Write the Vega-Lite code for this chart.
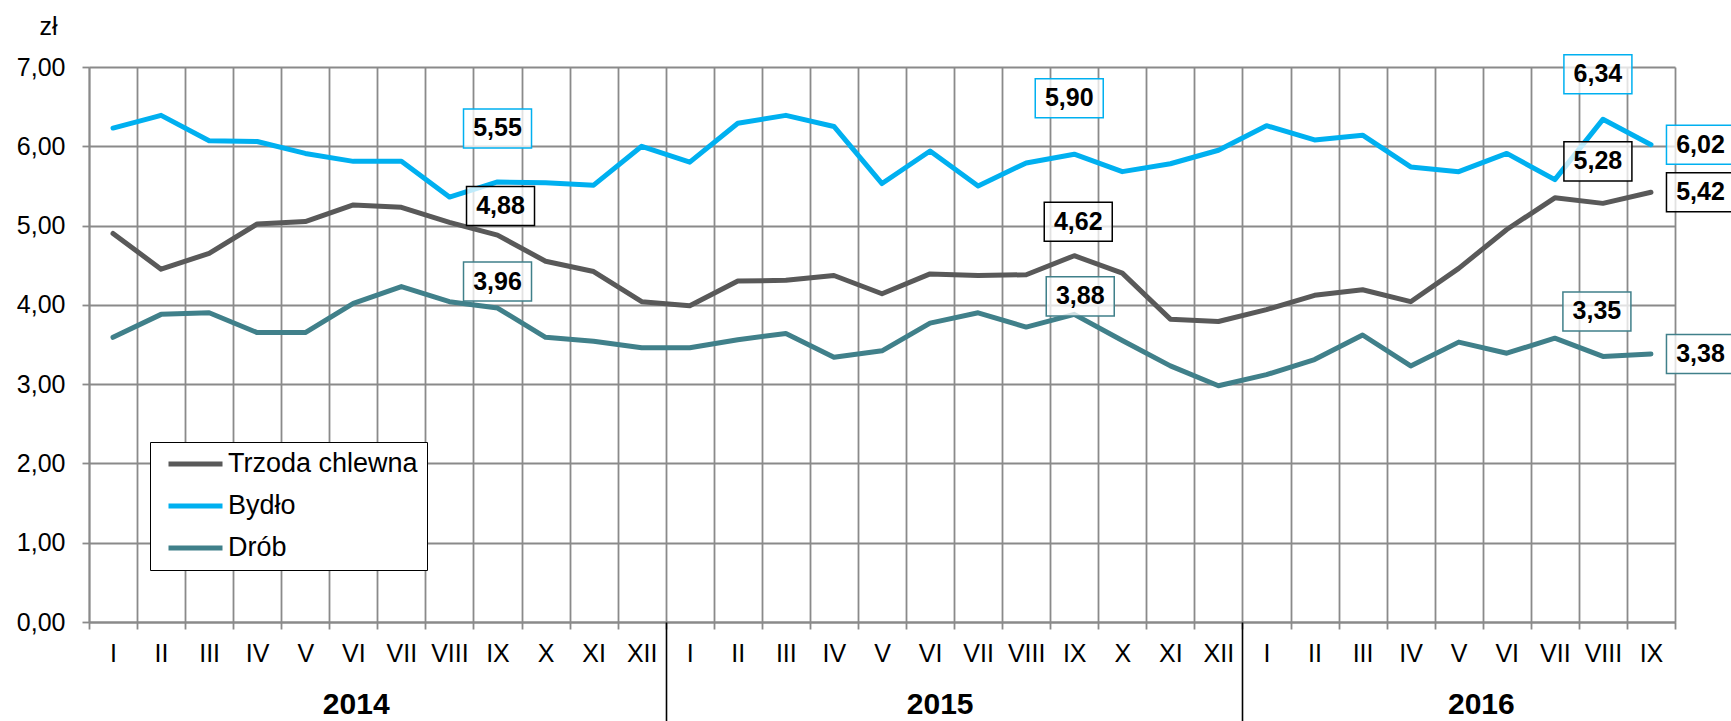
{
  "$schema": "https://vega.github.io/schema/vega-lite/v6.json",
  "width": 1586,
  "height": 555,
  "autosize": {"type": "none"},
  "padding": {"left": 89, "top": 67, "right": 56, "bottom": 99},
  "background": "#ffffff",
  "config": {
    "view": {"stroke": null},
    "font": "Liberation Sans",
    "locale": {"number": {"decimal": ",", "thousands": " ", "grouping": [3], "currency": ["", " zł"]}}
  },
  "data": {
    "values": [
      {"i": 0, "rok": 2014, "miesiac": "I", "Trzoda chlewna": 4.90, "Bydło": 6.23, "Drób": 3.59},
      {"i": 1, "rok": 2014, "miesiac": "II", "Trzoda chlewna": 4.45, "Bydło": 6.39, "Drób": 3.88},
      {"i": 2, "rok": 2014, "miesiac": "III", "Trzoda chlewna": 4.65, "Bydło": 6.07, "Drób": 3.90},
      {"i": 3, "rok": 2014, "miesiac": "IV", "Trzoda chlewna": 5.02, "Bydło": 6.06, "Drób": 3.65},
      {"i": 4, "rok": 2014, "miesiac": "V", "Trzoda chlewna": 5.05, "Bydło": 5.91, "Drób": 3.65},
      {"i": 5, "rok": 2014, "miesiac": "VI", "Trzoda chlewna": 5.26, "Bydło": 5.81, "Drób": 4.02},
      {"i": 6, "rok": 2014, "miesiac": "VII", "Trzoda chlewna": 5.23, "Bydło": 5.81, "Drób": 4.23},
      {"i": 7, "rok": 2014, "miesiac": "VIII", "Trzoda chlewna": 5.04, "Bydło": 5.36, "Drób": 4.04},
      {"i": 8, "rok": 2014, "miesiac": "IX", "Trzoda chlewna": 4.88, "Bydło": 5.55, "Drób": 3.96},
      {"i": 9, "rok": 2014, "miesiac": "X", "Trzoda chlewna": 4.55, "Bydło": 5.54, "Drób": 3.59},
      {"i": 10, "rok": 2014, "miesiac": "XI", "Trzoda chlewna": 4.42, "Bydło": 5.51, "Drób": 3.54},
      {"i": 11, "rok": 2014, "miesiac": "XII", "Trzoda chlewna": 4.04, "Bydło": 6.00, "Drób": 3.46},
      {"i": 12, "rok": 2015, "miesiac": "I", "Trzoda chlewna": 3.99, "Bydło": 5.80, "Drób": 3.46},
      {"i": 13, "rok": 2015, "miesiac": "II", "Trzoda chlewna": 4.30, "Bydło": 6.29, "Drób": 3.56},
      {"i": 14, "rok": 2015, "miesiac": "III", "Trzoda chlewna": 4.31, "Bydło": 6.39, "Drób": 3.64},
      {"i": 15, "rok": 2015, "miesiac": "IV", "Trzoda chlewna": 4.37, "Bydło": 6.25, "Drób": 3.34},
      {"i": 16, "rok": 2015, "miesiac": "V", "Trzoda chlewna": 4.14, "Bydło": 5.53, "Drób": 3.42},
      {"i": 17, "rok": 2015, "miesiac": "VI", "Trzoda chlewna": 4.39, "Bydło": 5.94, "Drób": 3.77},
      {"i": 18, "rok": 2015, "miesiac": "VII", "Trzoda chlewna": 4.37, "Bydło": 5.50, "Drób": 3.90},
      {"i": 19, "rok": 2015, "miesiac": "VIII", "Trzoda chlewna": 4.38, "Bydło": 5.79, "Drób": 3.72},
      {"i": 20, "rok": 2015, "miesiac": "IX", "Trzoda chlewna": 4.62, "Bydło": 5.90, "Drób": 3.88},
      {"i": 21, "rok": 2015, "miesiac": "X", "Trzoda chlewna": 4.40, "Bydło": 5.68, "Drób": 3.55},
      {"i": 22, "rok": 2015, "miesiac": "XI", "Trzoda chlewna": 3.82, "Bydło": 5.78, "Drób": 3.23},
      {"i": 23, "rok": 2015, "miesiac": "XII", "Trzoda chlewna": 3.79, "Bydło": 5.95, "Drób": 2.98},
      {"i": 24, "rok": 2016, "miesiac": "I", "Trzoda chlewna": 3.94, "Bydło": 6.26, "Drób": 3.12},
      {"i": 25, "rok": 2016, "miesiac": "II", "Trzoda chlewna": 4.12, "Bydło": 6.08, "Drób": 3.31},
      {"i": 26, "rok": 2016, "miesiac": "III", "Trzoda chlewna": 4.19, "Bydło": 6.14, "Drób": 3.62},
      {"i": 27, "rok": 2016, "miesiac": "IV", "Trzoda chlewna": 4.04, "Bydło": 5.74, "Drób": 3.23},
      {"i": 28, "rok": 2016, "miesiac": "V", "Trzoda chlewna": 4.46, "Bydło": 5.68, "Drób": 3.53},
      {"i": 29, "rok": 2016, "miesiac": "VI", "Trzoda chlewna": 4.95, "Bydło": 5.91, "Drób": 3.39},
      {"i": 30, "rok": 2016, "miesiac": "VII", "Trzoda chlewna": 5.35, "Bydło": 5.58, "Drób": 3.58},
      {"i": 31, "rok": 2016, "miesiac": "VIII", "Trzoda chlewna": 5.28, "Bydło": 6.34, "Drób": 3.35},
      {"i": 32, "rok": 2016, "miesiac": "IX", "Trzoda chlewna": 5.42, "Bydło": 6.02, "Drób": 3.38}
    ]
  },
  "transform": [{"fold": ["Trzoda chlewna", "Bydło", "Drób"], "as": ["series", "value"]}],
  "resolve": {"axis": {"x": "independent", "y": "independent"}},
  "layer": [
    {
      "mark": {"type": "line", "strokeWidth": 5, "strokeJoin": "round", "strokeCap": "round"},
      "encoding": {
        "x": {
          "field": "i", "type": "quantitative",
          "scale": {"domain": [-0.5, 32.5], "nice": false, "zero": false},
          "axis": {
            "orient": "bottom",
            "values": [-0.5, 0.5, 1.5, 2.5, 3.5, 4.5, 5.5, 6.5, 7.5, 8.5, 9.5, 10.5, 11.5, 12.5, 13.5, 14.5, 15.5, 16.5, 17.5, 18.5, 19.5, 20.5, 21.5, 22.5, 23.5, 24.5, 25.5, 26.5, 27.5, 28.5, 29.5, 30.5, 31.5, 32.5],
            "title": null,
            "grid": true, "gridColor": "#8a8a8a", "gridWidth": 1.8,
            "ticks": true, "tickSize": 7, "tickColor": "#8a8a8a", "tickWidth": 1.8,
            "domain": true, "domainColor": "#8a8a8a", "domainWidth": 1.8,
            "labelExpr": "datum.value > 32 ? '' : ['I','II','III','IV','V','VI','VII','VIII','IX','X','XI','XII'][round(datum.value + 0.5) % 12]",
            "labelOffset": 24,
            "labelFont": "Liberation Sans", "labelFontSize": 25, "labelColor": "#000000",
            "labelBaseline": "middle", "labelAlign": "center", "labelPadding": 24,
            "labelOverlap": false, "labelBound": false, "labelFlush": false
          }
        },
        "y": {
          "field": "value", "type": "quantitative",
          "scale": {"domain": [0, 7], "nice": false},
          "axis": {
            "orient": "left",
            "values": [0, 1, 2, 3, 4, 5, 6, 7],
            "format": ".2f",
            "grid": true, "gridColor": "#8a8a8a", "gridWidth": 1.8,
            "ticks": true, "tickSize": 7, "tickColor": "#8a8a8a", "tickWidth": 1.8,
            "domain": true, "domainColor": "#8a8a8a", "domainWidth": 1.8,
            "labelFont": "Liberation Sans", "labelFontSize": 25, "labelColor": "#000000", "labelPadding": 17,
            "labelOverlap": false, "labelBound": false, "labelFlush": false,
            "title": "zł", "titleAngle": 0, "titleX": -41, "titleY": -41,
            "titleAlign": "center", "titleBaseline": "middle",
            "titleFont": "Liberation Sans", "titleFontSize": 25, "titleFontWeight": "normal", "titleColor": "#000000"
          }
        },
        "color": {
          "field": "series", "type": "nominal",
          "scale": {"domain": ["Trzoda chlewna", "Bydło", "Drób"], "range": ["#595959", "#00B0F0", "#40808A"]},
          "legend": {
            "orient": "none", "legendX": 61, "legendY": 375, "direction": "vertical",
            "title": null, "fillColor": "#ffffff", "strokeColor": "#000000",
            "padding": 9, "rowPadding": 15, "clipHeight": 26,
            "symbolType": "stroke", "symbolSize": 2916, "symbolStrokeWidth": 5, "symbolOffset": 7,
            "labelOffset": 3, "labelFont": "Liberation Sans", "labelFontSize": 27, "labelColor": "#000000", "labelLimit": 400
          }
        }
      }
    },
    {
      "mark": {"type": "point", "opacity": 0},
      "encoding": {
        "x": {
          "field": "i", "type": "quantitative",
          "axis": {
            "orient": "bottom", "values": [5.05, 17.2, 28.46], "title": null,
            "grid": false, "ticks": false, "tickSize": 0, "domain": false,
            "labelExpr": "datum.value < 11 ? '2014' : (datum.value < 23 ? '2015' : '2016')",
            "labelFont": "Liberation Sans", "labelFontSize": 30, "labelFontWeight": "bold", "labelColor": "#000000",
            "labelBaseline": "middle", "labelAlign": "center", "labelPadding": 82,
            "labelOverlap": false, "labelBound": false, "labelFlush": false
          }
        },
        "y": {"field": "value", "type": "quantitative", "axis": null}
      }
    },
    {
      "mark": {"type": "point", "opacity": 0},
      "encoding": {
        "x": {
          "field": "i", "type": "quantitative",
          "axis": {
            "orient": "bottom", "values": [11.5, 23.5], "title": null,
            "grid": false, "domain": false, "labels": false,
            "ticks": true, "tickSize": 99, "tickColor": "#000000", "tickWidth": 1.6
          }
        },
        "y": {"field": "value", "type": "quantitative", "axis": null}
      }
    },
    {
      "transform": [{"filter": "datum.series === 'Bydło' && datum.i === 8"}],
      "encoding": {"x": {"field": "i", "type": "quantitative", "axis": null}, "y": {"field": "value", "type": "quantitative", "axis": null}},
      "layer": [
        {"mark": {"type": "point", "shape": "M-1,-0.574H1V0.574H-1Z", "size": 4624, "filled": true, "fill": "#ffffff", "fillOpacity": 0.75, "opacity": 1, "stroke": "#00B0F0", "strokeWidth": 1.5, "xOffset": 0, "yOffset": -53.5}},
        {"mark": {"type": "text", "font": "Liberation Sans", "fontSize": 25, "fontWeight": "bold", "color": "#000000", "align": "center", "baseline": "middle", "xOffset": 0, "yOffset": -53.5}, "encoding": {"text": {"field": "value", "type": "quantitative", "format": ".2f"}}}
      ]
    },
    {
      "transform": [{"filter": "datum.series === 'Bydło' && datum.i === 20"}],
      "encoding": {"x": {"field": "i", "type": "quantitative", "axis": null}, "y": {"field": "value", "type": "quantitative", "axis": null}},
      "layer": [
        {"mark": {"type": "point", "shape": "M-1,-0.574H1V0.574H-1Z", "size": 4624, "filled": true, "fill": "#ffffff", "fillOpacity": 0.75, "opacity": 1, "stroke": "#00B0F0", "strokeWidth": 1.5, "xOffset": -5, "yOffset": -56}},
        {"mark": {"type": "text", "font": "Liberation Sans", "fontSize": 25, "fontWeight": "bold", "color": "#000000", "align": "center", "baseline": "middle", "xOffset": -5, "yOffset": -56}, "encoding": {"text": {"field": "value", "type": "quantitative", "format": ".2f"}}}
      ]
    },
    {
      "transform": [{"filter": "datum.series === 'Bydło' && datum.i === 31"}],
      "encoding": {"x": {"field": "i", "type": "quantitative", "axis": null}, "y": {"field": "value", "type": "quantitative", "axis": null}},
      "layer": [
        {"mark": {"type": "point", "shape": "M-1,-0.574H1V0.574H-1Z", "size": 4624, "filled": true, "fill": "#ffffff", "fillOpacity": 0.75, "opacity": 1, "stroke": "#00B0F0", "strokeWidth": 1.5, "xOffset": -5, "yOffset": -45}},
        {"mark": {"type": "text", "font": "Liberation Sans", "fontSize": 25, "fontWeight": "bold", "color": "#000000", "align": "center", "baseline": "middle", "xOffset": -5, "yOffset": -45}, "encoding": {"text": {"field": "value", "type": "quantitative", "format": ".2f"}}}
      ]
    },
    {
      "transform": [{"filter": "datum.series === 'Trzoda chlewna' && datum.i === 8"}],
      "encoding": {"x": {"field": "i", "type": "quantitative", "axis": null}, "y": {"field": "value", "type": "quantitative", "axis": null}},
      "layer": [
        {"mark": {"type": "point", "shape": "M-1,-0.574H1V0.574H-1Z", "size": 4624, "filled": true, "fill": "#ffffff", "fillOpacity": 0.75, "opacity": 1, "stroke": "#000000", "strokeWidth": 1.5, "xOffset": 3, "yOffset": -29}},
        {"mark": {"type": "text", "font": "Liberation Sans", "fontSize": 25, "fontWeight": "bold", "color": "#000000", "align": "center", "baseline": "middle", "xOffset": 3, "yOffset": -29}, "encoding": {"text": {"field": "value", "type": "quantitative", "format": ".2f"}}}
      ]
    },
    {
      "transform": [{"filter": "datum.series === 'Trzoda chlewna' && datum.i === 20"}],
      "encoding": {"x": {"field": "i", "type": "quantitative", "axis": null}, "y": {"field": "value", "type": "quantitative", "axis": null}},
      "layer": [
        {"mark": {"type": "point", "shape": "M-1,-0.574H1V0.574H-1Z", "size": 4624, "filled": true, "fill": "#ffffff", "fillOpacity": 0.75, "opacity": 1, "stroke": "#000000", "strokeWidth": 1.5, "xOffset": 4, "yOffset": -34}},
        {"mark": {"type": "text", "font": "Liberation Sans", "fontSize": 25, "fontWeight": "bold", "color": "#000000", "align": "center", "baseline": "middle", "xOffset": 4, "yOffset": -34}, "encoding": {"text": {"field": "value", "type": "quantitative", "format": ".2f"}}}
      ]
    },
    {
      "transform": [{"filter": "datum.series === 'Trzoda chlewna' && datum.i === 31"}],
      "encoding": {"x": {"field": "i", "type": "quantitative", "axis": null}, "y": {"field": "value", "type": "quantitative", "axis": null}},
      "layer": [
        {"mark": {"type": "point", "shape": "M-1,-0.574H1V0.574H-1Z", "size": 4624, "filled": true, "fill": "#ffffff", "fillOpacity": 0.75, "opacity": 1, "stroke": "#000000", "strokeWidth": 1.5, "xOffset": -5, "yOffset": -42}},
        {"mark": {"type": "text", "font": "Liberation Sans", "fontSize": 25, "fontWeight": "bold", "color": "#000000", "align": "center", "baseline": "middle", "xOffset": -5, "yOffset": -42}, "encoding": {"text": {"field": "value", "type": "quantitative", "format": ".2f"}}}
      ]
    },
    {
      "transform": [{"filter": "datum.series === 'Drób' && datum.i === 8"}],
      "encoding": {"x": {"field": "i", "type": "quantitative", "axis": null}, "y": {"field": "value", "type": "quantitative", "axis": null}},
      "layer": [
        {"mark": {"type": "point", "shape": "M-1,-0.574H1V0.574H-1Z", "size": 4624, "filled": true, "fill": "#ffffff", "fillOpacity": 0.75, "opacity": 1, "stroke": "#40808A", "strokeWidth": 1.5, "xOffset": 0, "yOffset": -26.5}},
        {"mark": {"type": "text", "font": "Liberation Sans", "fontSize": 25, "fontWeight": "bold", "color": "#000000", "align": "center", "baseline": "middle", "xOffset": 0, "yOffset": -26.5}, "encoding": {"text": {"field": "value", "type": "quantitative", "format": ".2f"}}}
      ]
    },
    {
      "transform": [{"filter": "datum.series === 'Drób' && datum.i === 20"}],
      "encoding": {"x": {"field": "i", "type": "quantitative", "axis": null}, "y": {"field": "value", "type": "quantitative", "axis": null}},
      "layer": [
        {"mark": {"type": "point", "shape": "M-1,-0.574H1V0.574H-1Z", "size": 4624, "filled": true, "fill": "#ffffff", "fillOpacity": 0.75, "opacity": 1, "stroke": "#40808A", "strokeWidth": 1.5, "xOffset": 6, "yOffset": -18}},
        {"mark": {"type": "text", "font": "Liberation Sans", "fontSize": 25, "fontWeight": "bold", "color": "#000000", "align": "center", "baseline": "middle", "xOffset": 6, "yOffset": -18}, "encoding": {"text": {"field": "value", "type": "quantitative", "format": ".2f"}}}
      ]
    },
    {
      "transform": [{"filter": "datum.series === 'Drób' && datum.i === 31"}],
      "encoding": {"x": {"field": "i", "type": "quantitative", "axis": null}, "y": {"field": "value", "type": "quantitative", "axis": null}},
      "layer": [
        {"mark": {"type": "point", "shape": "M-1,-0.574H1V0.574H-1Z", "size": 4624, "filled": true, "fill": "#ffffff", "fillOpacity": 0.75, "opacity": 1, "stroke": "#40808A", "strokeWidth": 1.5, "xOffset": -6, "yOffset": -45}},
        {"mark": {"type": "text", "font": "Liberation Sans", "fontSize": 25, "fontWeight": "bold", "color": "#000000", "align": "center", "baseline": "middle", "xOffset": -6, "yOffset": -45}, "encoding": {"text": {"field": "value", "type": "quantitative", "format": ".2f"}}}
      ]
    },
    {
      "transform": [{"filter": "datum.series === 'Bydło' && datum.i === 32"}],
      "encoding": {"x": {"field": "i", "type": "quantitative", "axis": null}, "y": {"field": "value", "type": "quantitative", "axis": null}},
      "layer": [
        {"mark": {"type": "point", "shape": "M-1,-0.574H1V0.574H-1Z", "size": 4624, "filled": true, "fill": "#ffffff", "fillOpacity": 0.75, "opacity": 1, "stroke": "#00B0F0", "strokeWidth": 1.5, "xOffset": 49.5, "yOffset": 0}},
        {"mark": {"type": "text", "font": "Liberation Sans", "fontSize": 25, "fontWeight": "bold", "color": "#000000", "align": "center", "baseline": "middle", "xOffset": 49.5, "yOffset": 0}, "encoding": {"text": {"field": "value", "type": "quantitative", "format": ".2f"}}}
      ]
    },
    {
      "transform": [{"filter": "datum.series === 'Trzoda chlewna' && datum.i === 32"}],
      "encoding": {"x": {"field": "i", "type": "quantitative", "axis": null}, "y": {"field": "value", "type": "quantitative", "axis": null}},
      "layer": [
        {"mark": {"type": "point", "shape": "M-1,-0.574H1V0.574H-1Z", "size": 4624, "filled": true, "fill": "#ffffff", "fillOpacity": 0.75, "opacity": 1, "stroke": "#000000", "strokeWidth": 1.5, "xOffset": 49.5, "yOffset": 0}},
        {"mark": {"type": "text", "font": "Liberation Sans", "fontSize": 25, "fontWeight": "bold", "color": "#000000", "align": "center", "baseline": "middle", "xOffset": 49.5, "yOffset": 0}, "encoding": {"text": {"field": "value", "type": "quantitative", "format": ".2f"}}}
      ]
    },
    {
      "transform": [{"filter": "datum.series === 'Drób' && datum.i === 32"}],
      "encoding": {"x": {"field": "i", "type": "quantitative", "axis": null}, "y": {"field": "value", "type": "quantitative", "axis": null}},
      "layer": [
        {"mark": {"type": "point", "shape": "M-1,-0.574H1V0.574H-1Z", "size": 4624, "filled": true, "fill": "#ffffff", "fillOpacity": 0.75, "opacity": 1, "stroke": "#40808A", "strokeWidth": 1.5, "xOffset": 49.5, "yOffset": 0}},
        {"mark": {"type": "text", "font": "Liberation Sans", "fontSize": 25, "fontWeight": "bold", "color": "#000000", "align": "center", "baseline": "middle", "xOffset": 49.5, "yOffset": 0}, "encoding": {"text": {"field": "value", "type": "quantitative", "format": ".2f"}}}
      ]
    }
  ]
}
